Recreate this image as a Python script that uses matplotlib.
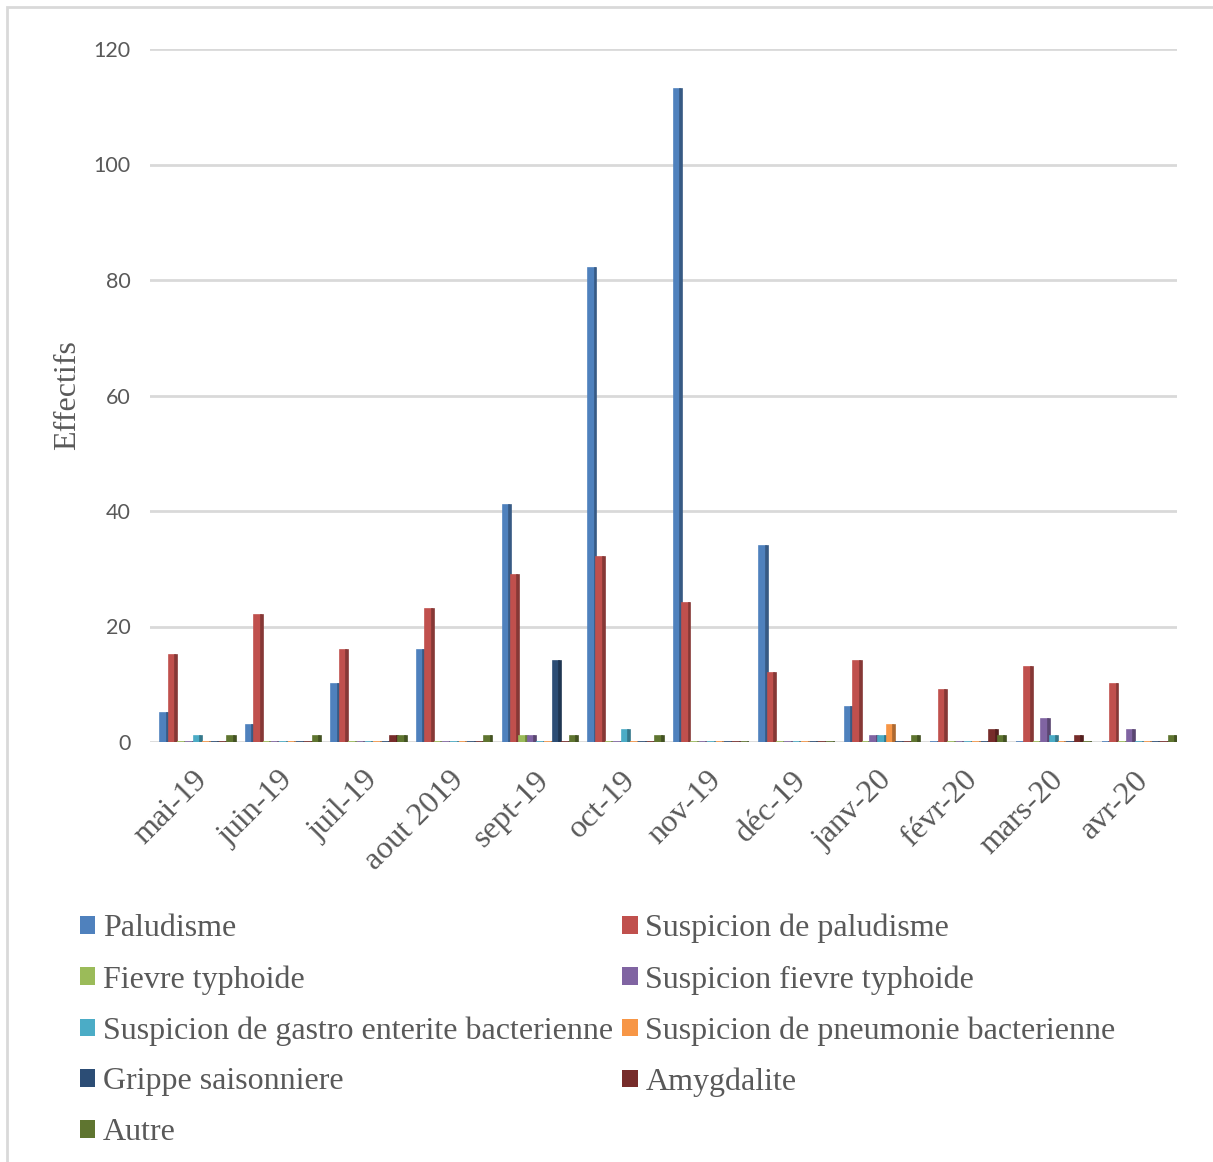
import matplotlib
matplotlib.use("Agg")
import matplotlib.pyplot as plt
import numpy as np
from matplotlib.patches import Rectangle, Patch
from matplotlib.colors import to_rgb

months = ["mai-19", "juin-19", "juil-19", "aout 2019", "sept-19", "oct-19",
          "nov-19", "déc-19", "janv-20", "févr-20", "mars-20", "avr-20"]

paludisme = [5, 3, 10, 16, 41, 82, 113, 34, 6, 0, 0, 0]
susp_paludisme = [15, 22, 16, 23, 29, 32, 24, 12, 14, 9, 13, 10]
fievre_typhoide = [0, 0, 0, 0, 1, 0, 0, 0, 0, 0, 0, 0]
susp_fievre_typhoide = [0, 0, 0, 0, 1, 0, 0, 0, 1, 0, 4, 2]
susp_gastro = [1, 0, 0, 0, 0, 2, 0, 0, 1, 0, 1, 0]
susp_pneumonie = [0, 0, 0, 0, 0, 0, 0, 0, 3, 0, 0, 0]
grippe = [0, 0, 0, 0, 14, 0, 0, 0, 0, 0, 0, 0]
amygdalite = [0, 0, 1, 0, 0, 0, 0, 0, 0, 2, 1, 0]
autre = [1, 1, 1, 1, 1, 1, 0, 0, 1, 1, 0, 1]

series_names = ["Paludisme", "Suspicion de paludisme", "Fievre typhoide",
                "Suspicion fievre typhoide",
                "Suspicion de gastro enterite bacterienne",
                "Suspicion de pneumonie bacterienne", "Grippe saisonniere",
                "Amygdalite", "Autre"]
series_values = [paludisme, susp_paludisme, fievre_typhoide,
                 susp_fievre_typhoide, susp_gastro, susp_pneumonie, grippe,
                 amygdalite, autre]
colors = ["#4F81BD", "#C0504D", "#9BBB59", "#8064A2", "#4BACC6", "#F79646",
          "#2C4D75", "#772C2A", "#5F7530"]

W, H = 1213, 1162
fig = plt.figure(figsize=(W / 100, H / 100), dpi=100)
fig.patch.set_facecolor("white")

# light frame around the chart area
fig.add_artist(Rectangle((7 / W, -0.2), 1.2, 1.2 - 7 / H,
                         transform=fig.transFigure, fill=False,
                         edgecolor="#d9d9d9", linewidth=2))

ax = fig.add_axes([150 / W, 1 - 742 / H, (1177 - 150) / W, (742 - 49) / H])
ax.set_xlim(-0.5, len(months) - 0.5)
ax.set_ylim(0, 120)
ax.set_yticks(np.arange(0, 121, 20))
ax.yaxis.grid(True, color="#d9d9d9", linewidth=2)
ax.set_axisbelow(True)
for s in ax.spines.values():
    s.set_visible(False)
ax.tick_params(axis="both", length=0)
ax.tick_params(axis="y", pad=14, labelsize=15.5, labelcolor="#595959")
for lbl in ax.get_yticklabels():
    lbl.set_family("Lato")

x = np.arange(len(months))
n = len(series_values)
slot = 0.098
bw = slot * 0.78
side = slot * 0.22


def darker(c, f=0.7):
    r, g, b = to_rgb(c)
    return (r * f, g * f, b * f)


for i, (vals, col) in enumerate(zip(series_values, colors)):
    xpos = x + (i - (n - 1) / 2) * slot + 0.06
    ax.bar(xpos - side / 2, vals, width=bw, color=col, edgecolor=col,
           linewidth=1.2, zorder=3)
    ax.bar(xpos + bw / 2, vals, width=side, color=darker(col),
           edgecolor=darker(col), linewidth=1.2, zorder=3)

ax.set_xticks(x)
ax.set_xticklabels(months, rotation=45, ha="right", rotation_mode="anchor",
                   fontsize=23, color="#595959", family="Liberation Serif")
ax.tick_params(axis="x", pad=17)

ax.set_ylabel("Effectifs", fontsize=23, color="#595959",
              family="Liberation Serif", labelpad=8)

order = [0, 2, 4, 6, 8, 1, 3, 5, 7]
handles = [Patch(facecolor=colors[k], edgecolor="none") for k in order]
labels = [series_names[k] for k in order]
leg = fig.legend(handles, labels, ncol=2, loc="upper left",
                 bbox_to_anchor=(67 / W, 1 - 901 / H), frameon=False,
                 prop={"family": "Liberation Serif", "size": 23},
                 handlelength=0.47, handleheight=0.47, handletextpad=0.25,
                 columnspacing=0.3, labelspacing=0.68, borderaxespad=0)
for t in leg.get_texts():
    t.set_color("#595959")

fig.savefig("out.png", dpi=100, facecolor="white")
